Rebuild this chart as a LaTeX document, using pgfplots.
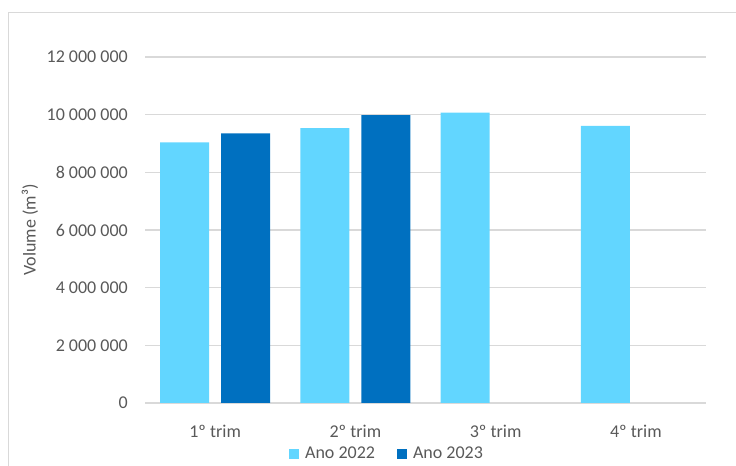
\documentclass[border=0pt]{standalone}
\usepackage{pgfplots}
\pgfplotsset{compat=1.18}
\usepackage{fontspec}
\setmainfont{Carlito}
\definecolor{lightbar}{HTML}{62D6FF}
\definecolor{darkbar}{HTML}{0070C0}
\definecolor{txtgray}{HTML}{595959}
\definecolor{gridgray}{HTML}{D9D9D9}
\begin{document}
\fontsize{18bp}{21bp}\selectfont
\begin{tikzpicture}
\useasboundingbox (0,0) rectangle (736bp,466bp);
\draw[gridgray, line width=1.5bp] (8.5bp,0) -- (8.5bp,453.5bp) -- (736bp,453.5bp);
\begin{axis}[
  at={(145bp,63bp)}, anchor=south west,
  scale only axis, width=561bp, height=346bp,
  xmin=-0.5, xmax=3.5, ymin=0, ymax=12000000,
  ybar=12bp, bar width=49bp,
  xtick=data, xticklabels={1º trim,2º trim,3º trim,4º trim},
  ytick={0,2000000,4000000,6000000,8000000,10000000,12000000},
  yticklabels={0,2 000 000,4 000 000,6 000 000,8 000 000,10 000 000,12 000 000},
  scaled y ticks=false,
  ymajorgrids, grid style={gridgray, line width=1.2bp},
  axis x line*=bottom, axis y line*=left,
  y axis line style={draw=none},
  x axis line style={draw=gridgray, line width=1.5bp},
  tick style={draw=none},
  tick label style={font=\fontsize{18bp}{21bp}\selectfont, text=txtgray},
  yticklabel style={anchor=east, inner sep=0pt, xshift=-17bp},
  xticklabel style={anchor=base, inner sep=0pt, yshift=-30bp},
  ylabel={Volume (m³)},
  ylabel style={at={(axis description cs:-0.205,0.5)}, anchor=center, rotate=0, text=txtgray, font=\fontsize{18bp}{21bp}\selectfont, inner sep=0pt},
  legend style={at={(axis description cs:0.4314,-0.1474)}, anchor=center, draw=none, fill=none,
    legend columns=2, font=\fontsize{18bp}{21bp}\selectfont, text=txtgray,
    /tikz/every odd column/.append style={column sep=4bp},
    /tikz/every even column/.append style={column sep=20bp},
    inner sep=0pt, cells={anchor=west}},
  legend image code/.code={\fill[#1] (0bp,-5bp) rectangle (10bp,5bp);},
]
\addplot[fill=lightbar, draw=none] coordinates {(0,9040000) (1,9530000) (2,10070000) (3,9610000)};
\addplot[fill=darkbar, draw=none] coordinates {(0,9350000) (1,9980000)};
\legend{Ano 2022, Ano 2023}
\end{axis}
\end{tikzpicture}
\end{document}
